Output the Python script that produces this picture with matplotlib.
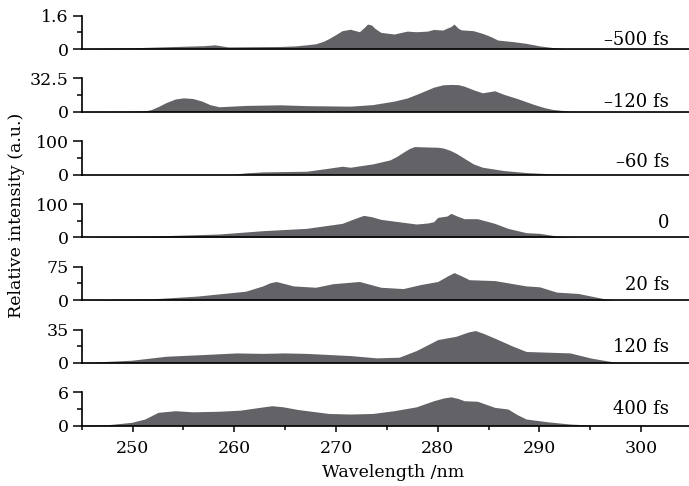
import matplotlib
matplotlib.use("Agg")
import matplotlib.pyplot as plt
from matplotlib.ticker import MultipleLocator

plt.rcParams["font.family"] = ["DejaVu Serif"]

# delay labels and top of the y axis for each panel
delays = ["–500 fs", "–120 fs", "–60 fs", "0", "20 fs", "120 fs", "400 fs"]
y_tops = [1.6, 32.5, 100, 100, 75, 35, 6]
y_top_labels = ["1.6", "32.5", "100", "100", "75", "35", "6"]

# spectra (wavelength nm, relative intensity)
wl_m500 = [245, 250, 254.2, 257.0, 258.1, 258.6, 259.4, 264.5, 266.0, 267.1, 268.0, 268.8,
           269.3, 270.0, 270.6, 271.4, 272.3, 272.8, 273.1, 273.5, 273.8, 274.4, 275.7,
           277.0, 277.9, 279.0, 279.6, 280.5, 280.9, 281.3, 281.6, 282.0, 282.3, 283.5,
           284.4, 285.2, 285.9, 287.5, 288.7, 290.0, 291.3, 292.5, 305]
int_m500 = [0.02, 0.06, 0.12, 0.16, 0.2, 0.16, 0.1, 0.12, 0.15, 0.2, 0.25, 0.38,
            0.5, 0.7, 0.88, 0.95, 0.83, 1.05, 1.2, 1.15, 1.0, 0.8, 0.72,
            0.86, 0.83, 0.86, 0.94, 0.91, 1.0, 1.08, 1.2, 1.0, 0.92, 0.88,
            0.75, 0.6, 0.43, 0.35, 0.27, 0.15, 0.07, 0.02, 0.02]

wl_m120 = [245, 250.0, 251.2, 251.8, 252.5, 253.3, 254.2, 255.0, 255.9, 256.8, 257.6, 258.5,
           261.1, 264.5, 267.1, 271.4, 273.6, 275.7, 277.0, 277.9, 279.6, 280.5, 281.3,
           282.0, 282.6, 283.5, 284.4, 285.0, 285.6, 286.5, 287.8, 289.5, 290.5, 291.3,
           293.0, 305]
int_m120 = [0.3, 0.7, 1.0, 2.0, 5.0, 9.0, 12.5, 13.6, 13.0, 10.5, 7.0, 4.9,
            6.2, 6.8, 6.0, 5.5, 7.0, 10.4, 13.5, 17.0, 24.0, 26.3, 26.7,
            26.5, 25.0, 21.5, 18.5, 19.5, 20.5, 17.0, 13.0, 7.0, 4.0, 2.3,
            0.5, 0.2]

wl_m60 = [245, 259.8, 261.1, 262.8, 267.1, 268.8, 270.6, 271.4, 273.6, 275.3, 276.0, 276.6,
          277.2, 277.7, 280.0, 280.5, 281.2, 281.8, 283.5, 284.4, 286.5, 288.7, 291.3, 293.0, 305]
int_m60 = [0.5, 0.5, 5, 8, 10, 17, 25, 22, 32, 44, 55, 67,
           78, 84, 82, 80, 73, 64, 32, 22, 12, 6, 2, 0.5, 0.3]

wl_0 = [245, 252.0, 258.5, 262.8, 267.1, 270.6, 271.8, 272.7, 273.5, 274.4, 277.9, 279.0,
        279.6, 280.0, 280.9, 281.3, 281.9, 282.6, 283.9, 285.6, 286.9, 288.7, 290.0,
        291.7, 293.0, 305]
int_0 = [0.5, 4, 10, 20, 27, 42, 56, 66, 62, 54, 40, 43,
         47, 60, 64, 72, 64, 56, 56, 42, 27, 14, 12,
         4, 1, 0.5]

wl_20 = [245, 252.0, 256.3, 261.1, 262.8, 263.5, 264.1, 264.8, 265.8, 268.0, 269.7, 272.3,
         274.4, 276.6, 278.3, 280.0, 281.0, 281.6, 282.3, 283.1, 285.6, 288.7, 290.0,
         291.7, 293.8, 296.4, 297.3, 305]
int_20 = [0.5, 3, 9, 20, 32, 39, 42, 38, 32, 29, 37, 42,
          29, 26, 35, 42, 55, 62, 55, 46, 44, 32, 30,
          18, 15, 3, 0.5, 0.3]

wl_120 = [245, 249.9, 253.3, 256.8, 260.2, 262.8, 264.9, 267.1, 271.4, 274.0, 276.2, 277.9,
          279.0, 280.0, 281.8, 283.0, 283.7, 284.5, 285.6, 287.4, 288.7, 293.0, 295.1,
          297.3, 305]
int_120 = [0.3, 2.8, 7, 8.7, 10.5, 10, 10.5, 10, 7.7, 5.3, 6, 13,
           19, 24.5, 28, 32.5, 34, 31, 26, 17.5, 12, 10.5, 5,
           1, 0.3]

wl_400 = [245, 247.7, 249.9, 251.2, 252.5, 254.2, 255.9, 258.5, 260.6, 262.5, 263.7, 264.8,
          266.3, 269.3, 271.4, 273.6, 275.7, 277.9, 279.6, 280.6, 281.3, 282.0, 282.6,
          283.9, 285.6, 286.9, 287.8, 288.7, 290.8, 293.0, 295.1, 305]
int_400 = [0.1, 0.2, 0.6, 1.2, 2.4, 2.7, 2.5, 2.6, 2.8, 3.3, 3.6, 3.4,
           2.9, 2.2, 2.1, 2.2, 2.7, 3.4, 4.5, 5.0, 5.2, 4.9, 4.5,
           4.4, 3.3, 3.0, 2.0, 1.2, 0.7, 0.3, 0.1, 0.05]

spectra = [(wl_m500, int_m500), (wl_m120, int_m120), (wl_m60, int_m60), (wl_0, int_0),
           (wl_20, int_20), (wl_120, int_120), (wl_400, int_400)]

x_ticks = [250, 260, 270, 280, 290, 300]

fill_color = "#636266"
W, H = 689, 486
fig = plt.figure(figsize=(W / 100, H / 100), dpi=100)

# layout in pixels
left_px = 81.7
panel_h = 33.3
base_y = [49.0 + i * 62.78 for i in range(7)]
label_pad = [4, 5, 8, 9, 10, 11, 12]
label_x = (669 - left_px) / (W - left_px)

for i, ((wl, inten), top) in enumerate(zip(spectra, y_tops)):
    ax = fig.add_axes([left_px / W, 1 - base_y[i] / H, 1 - left_px / W, panel_h / H])
    ax.fill_between(wl, 0, inten, color=fill_color, linewidth=0)
    ax.set_xlim(245, 304.7)
    ax.set_ylim(0, top)
    ax.patch.set_visible(False)

    for side in ("top", "right"):
        ax.spines[side].set_visible(False)
    ax.spines["left"].set_bounds(0, top)
    ax.spines["left"].set_linewidth(1.2)
    ax.spines["bottom"].set_linewidth(1.2)

    ax.set_yticks([0, top])
    ax.set_yticklabels(["0", y_top_labels[i]])
    ax.yaxis.set_minor_locator(MultipleLocator(top / 2))
    ax.tick_params(axis="y", which="major", direction="out", length=6.5, width=1.1,
                   labelsize=12.5, pad=3)
    ax.tick_params(axis="y", which="minor", direction="out", length=3.5, width=1.1)

    if i == len(spectra) - 1:
        ax.set_xticks(x_ticks)
        ax.xaxis.set_minor_locator(MultipleLocator(5))
        ax.tick_params(axis="x", which="major", direction="out", length=4, width=1.1,
                       labelsize=12.5, pad=6)
        ax.tick_params(axis="x", which="minor", direction="out", length=3, width=1.1)
    else:
        ax.set_xticks([])

    ax.text(label_x, label_pad[i] / panel_h, delays[i], transform=ax.transAxes,
            ha="right", va="baseline", fontsize=13)

fig.text(17 / W, 1 - 215 / H, "Relative intensity (a.u.)", rotation=90,
         ha="center", va="center", fontsize=12.5)
fig.text(393 / W, 1 - 472 / H, "Wavelength /nm", ha="center", va="center", fontsize=12.5)

fig.savefig("out.png", dpi=100, facecolor="white")
